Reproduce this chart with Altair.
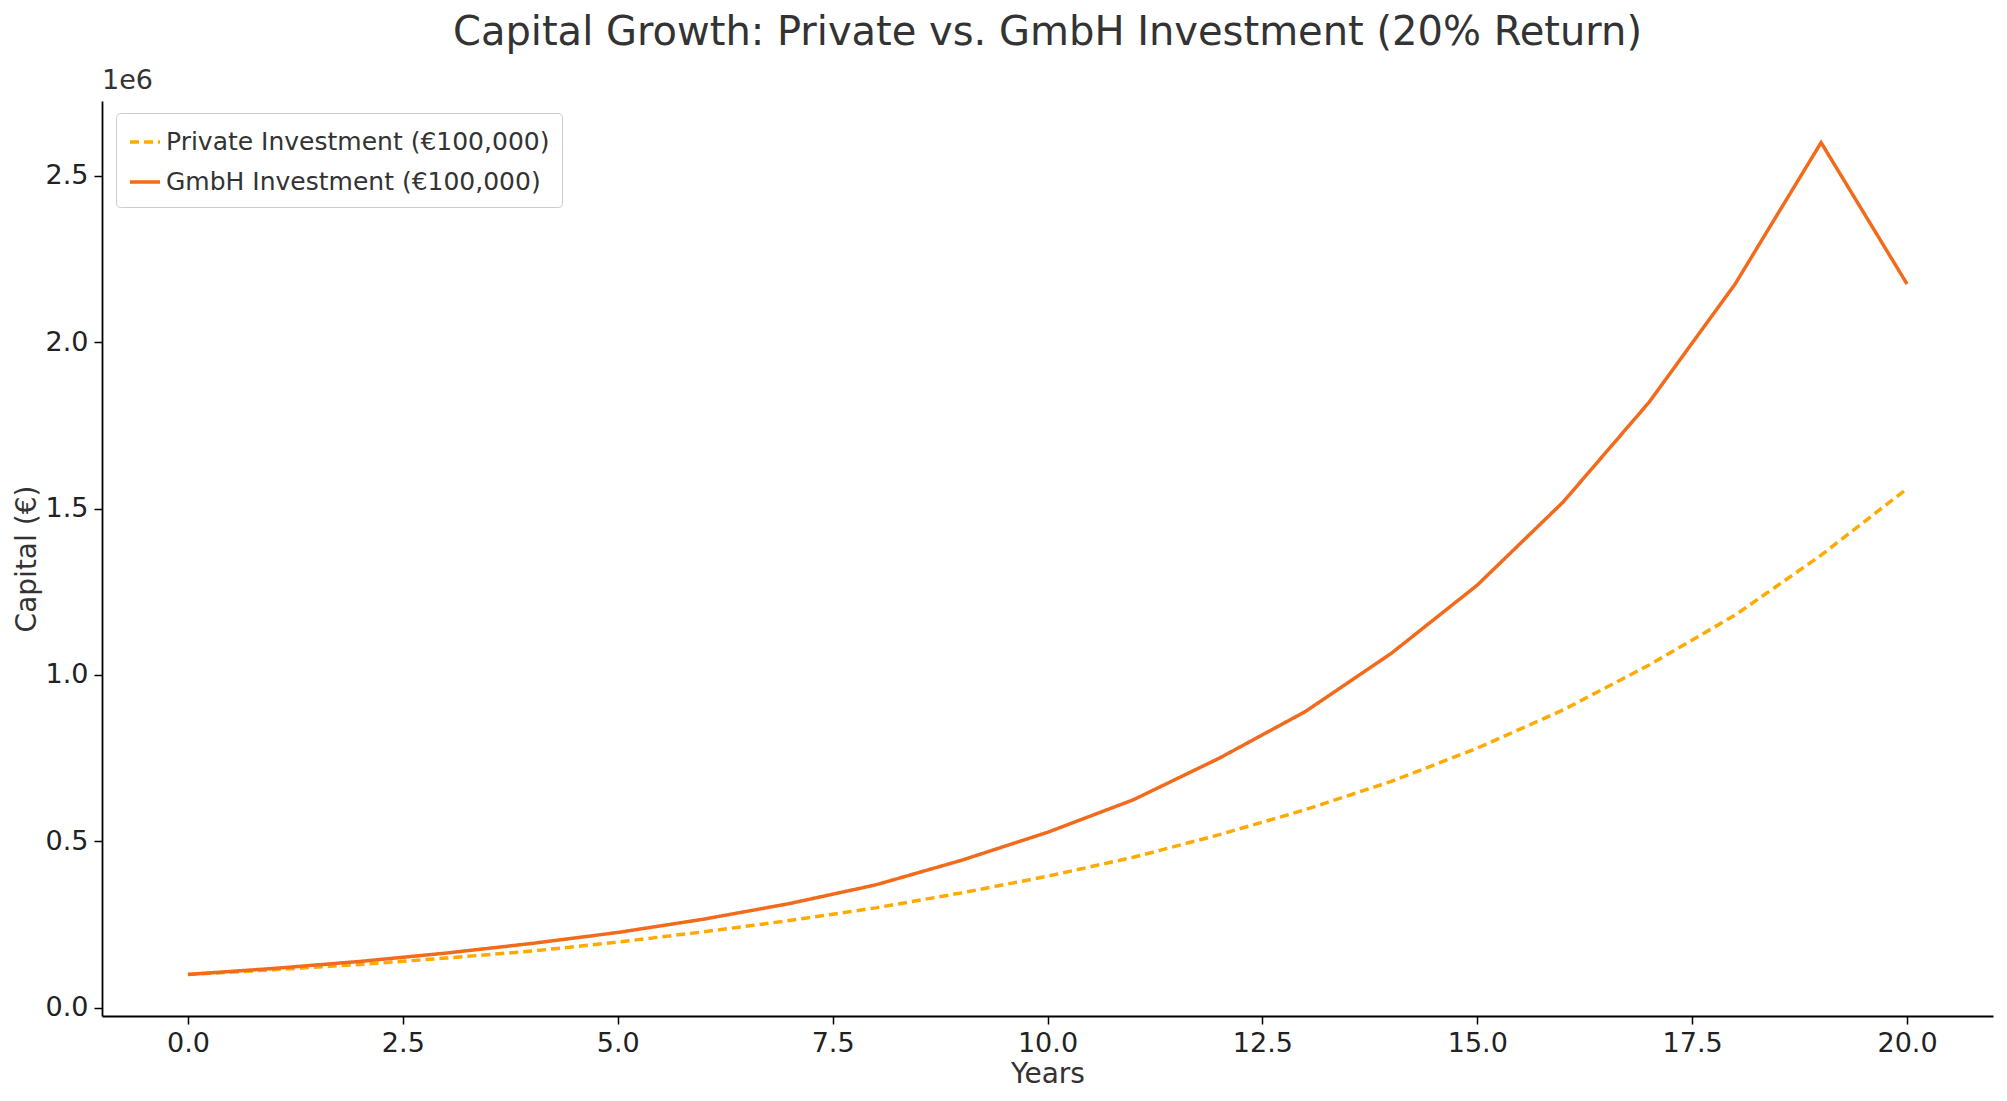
import altair as alt
import pandas as pd

years = list(range(21))
private = [0.1,0.114,0.130,0.149,0.170,0.197,0.228,0.262,0.300,0.345,0.395,0.452,0.520,0.595,0.680,0.780,0.895,1.030,1.180,1.360,1.560]
gmbh = [0.1,0.118,0.139,0.164,0.193,0.226,0.266,0.313,0.369,0.443,0.527,0.625,0.750,0.890,1.065,1.270,1.520,1.820,2.175,2.600,2.175]
names = ["Private Investment (€100,000)", "GmbH Investment (€100,000)"]

rows = []
for n, s in zip(names, [private, gmbh]):
    for y, v in zip(years, s):
        rows.append({"Years": y, "Capital": v * 1e6, "Series": n})
df = pd.DataFrame(rows)

font = "DejaVu Sans"
line = alt.Chart(df).mark_line(strokeWidth=3.5).encode(
    x=alt.X("Years:Q", scale=alt.Scale(domain=[-1, 21], nice=False, zero=False),
            axis=alt.Axis(values=[0,2.5,5,7.5,10,12.5,15,17.5,20], format=".1f", grid=False,
                          title="Years")),
    y=alt.Y("Capital:Q", scale=alt.Scale(domain=[-25000, 2725000], nice=False, zero=False),
            axis=alt.Axis(values=[0,500000,1000000,1500000,2000000,2500000],
                          labelExpr="format(datum.value/1e6, '.1f')", grid=False,
                          title="Capital (€)")),
    color=alt.Color("Series:N", sort=names,
                    scale=alt.Scale(domain=names, range=["#FFAA00", "#F26A1B"]),
                    legend=alt.Legend(title=None, orient="none", legendX=14, legendY=12,
                                      fillColor="white", strokeColor="#cccccc", padding=12,
                                      cornerRadius=4, labelFontSize=25, labelFont=font,
                                      labelLimit=0, rowPadding=10,
                                      symbolType="stroke", symbolSize=900, symbolStrokeWidth=3.5,
                                      labelColor="#333333")),
    strokeDash=alt.StrokeDash("Series:N", sort=names,
                              scale=alt.Scale(domain=names, range=[[9, 5], [1, 0]]),
                              legend=None),
)

exp = alt.Chart(pd.DataFrame({"t": ["1e6"]})).mark_text(
    align="left", baseline="bottom", fontSize=27, font=font, color="#333333"
).encode(x=alt.value(0), y=alt.value(-6), text="t:N")

chart = alt.layer(line, exp).properties(
    width=1990, height=1085,
    autosize=alt.AutoSizeParams(type="fit", contains="padding"),
    title=alt.Title("Capital Growth: Private vs. GmbH Investment (20% Return)",
                    fontSize=40, font=font, fontWeight="normal", color="#333333", offset=14),
).configure_view(stroke=None).configure_axis(
    labelFontSize=27, titleFontSize=28, labelFont=font, titleFont=font,
    labelColor="#222222", titleColor="#333333", domainColor="#000000", tickColor="#000000",
    tickSize=8, domainWidth=1.8, tickWidth=1.5, titleFontWeight="normal", labelPadding=6
)

chart.save("out.html", embed_options={"renderer": "svg", "actions": False})
